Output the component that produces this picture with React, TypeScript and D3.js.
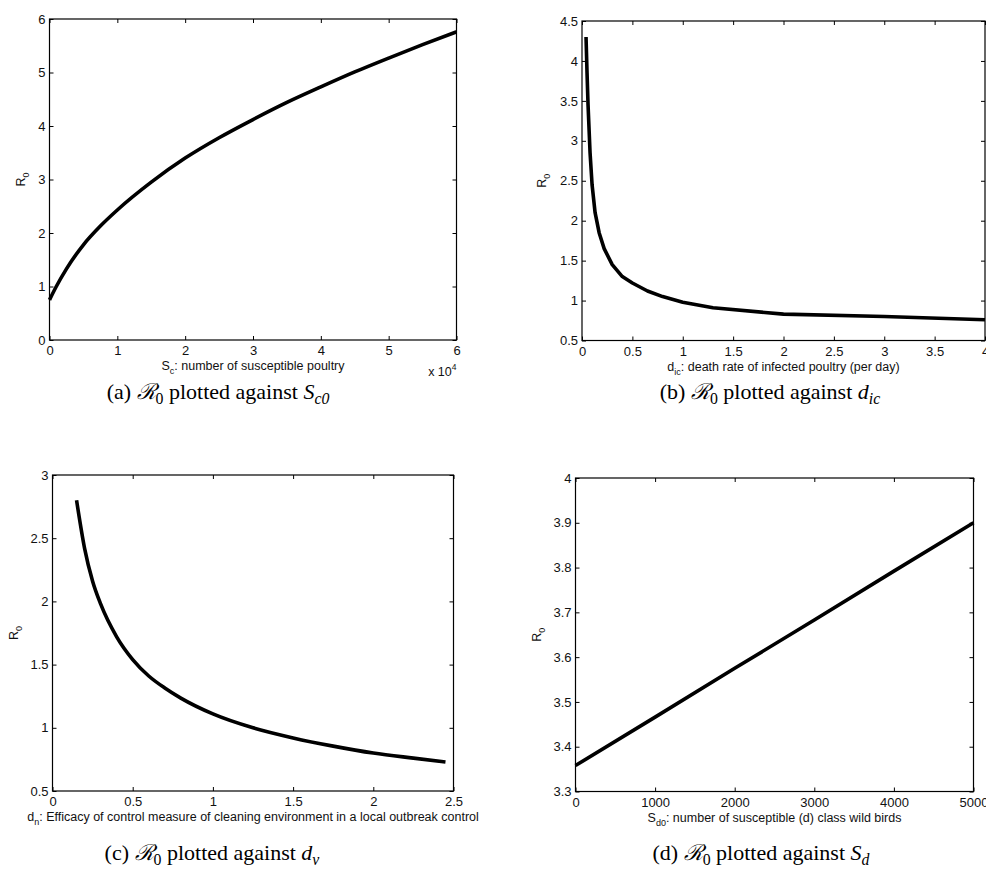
import { useEffect, useRef } from 'react';
import * as d3 from 'd3';

// (a) R0 against susceptible poultry S_c
const poultryX = [0, 1000, 2500, 5000, 7500, 10000, 15000, 20000, 25000, 30000, 35000, 40000, 45000, 50000, 55000, 60000];
const poultryR0 = [0.75, 1.0, 1.33, 1.78, 2.13, 2.43, 2.95, 3.4, 3.78, 4.12, 4.44, 4.73, 5.01, 5.27, 5.52, 5.76];

// (b) R0 against death rate d_ic
const deathX = [0.04, 0.05, 0.06, 0.08, 0.1, 0.13, 0.17, 0.22, 0.3, 0.4, 0.5, 0.65, 0.8, 1.0, 1.3, 2.0, 3.0, 4.0];
const deathR0 = [4.3, 3.85, 3.45, 2.85, 2.45, 2.1, 1.85, 1.65, 1.45, 1.3, 1.22, 1.12, 1.05, 0.98, 0.91, 0.83, 0.8, 0.76];

// (c) R0 against cleaning efficacy d_n
const cleanX = [0.15, 0.2, 0.25, 0.3, 0.4, 0.5, 0.6, 0.7, 0.8, 1.0, 1.25, 1.5, 1.75, 2.0, 2.25, 2.45];
const cleanR0 = [2.8, 2.42, 2.16, 1.98, 1.72, 1.54, 1.41, 1.315, 1.235, 1.11, 1.0, 0.92, 0.855, 0.8, 0.76, 0.73];

// (d) R0 against susceptible wild birds S_d0
const birdsX = [0, 1000, 2000, 3000, 4000, 5000];
const birdsR0 = [3.358, 3.466, 3.575, 3.683, 3.792, 3.90];

const ticksA_x = [0, 10000, 20000, 30000, 40000, 50000, 60000];
const ticksA_y = [0, 1, 2, 3, 4, 5, 6];
const ticksB_x = [0, 0.5, 1, 1.5, 2, 2.5, 3, 3.5, 4];
const ticksB_y = [0.5, 1, 1.5, 2, 2.5, 3, 3.5, 4, 4.5];
const ticksC_x = [0, 0.5, 1, 1.5, 2, 2.5];
const ticksC_y = [0.5, 1, 1.5, 2, 2.5, 3];
const ticksD_x = [0, 1000, 2000, 3000, 4000, 5000];
const ticksD_y = [3.3, 3.4, 3.5, 3.6, 3.7, 3.8, 3.9, 4];

type Part = { t: string; sub?: boolean; it?: boolean; script?: boolean };

const panels = [
  {
    box: [49.5, 19, 456.5, 340], xs: poultryX, ys: poultryR0, xDomain: [0, 60000], yDomain: [0, 6],
    xTicks: ticksA_x, yTicks: ticksA_y, xFmt: (d: number) => String(d / 10000), yFmt: (d: number) => String(d),
    curve: d3.curveMonotoneX, yLabelX: 25,
    xLabel: [{ t: 'S' }, { t: 'c', sub: true }, { t: ': number of susceptible poultry' }] as Part[],
    exponent: true, capX: 218, capY: 399,
    caption: [{ t: '(a) ' }, { t: 'ℛ', script: true }, { t: '0', sub: true }, { t: ' plotted against ' }, { t: 'S', it: true }, { t: 'c0', sub: true, it: true }] as Part[],
  },
  {
    box: [582, 21, 985, 340.5], xs: deathX, ys: deathR0, xDomain: [0, 4], yDomain: [0.5, 4.5],
    xTicks: ticksB_x, yTicks: ticksB_y, xFmt: (d: number) => String(d), yFmt: (d: number) => String(d),
    curve: d3.curveLinear, yLabelX: 546,
    xLabel: [{ t: 'd' }, { t: 'ic', sub: true }, { t: ': death rate of infected poultry (per day)' }] as Part[],
    exponent: false, capX: 770, capY: 399,
    caption: [{ t: '(b) ' }, { t: 'ℛ', script: true }, { t: '0', sub: true }, { t: ' plotted against ' }, { t: 'd', it: true }, { t: 'ic', sub: true, it: true }] as Part[],
  },
  {
    box: [52.5, 475, 453.5, 791], xs: cleanX, ys: cleanR0, xDomain: [0, 2.5], yDomain: [0.5, 3],
    xTicks: ticksC_x, yTicks: ticksC_y, xFmt: (d: number) => String(d), yFmt: (d: number) => String(d),
    curve: d3.curveMonotoneX, yLabelX: 18,
    xLabel: [{ t: 'd' }, { t: 'n', sub: true }, { t: ': Efficacy of control measure of cleaning environment in a local outbreak control' }] as Part[],
    exponent: false, capX: 212, capY: 860,
    caption: [{ t: '(c) ' }, { t: 'ℛ', script: true }, { t: '0', sub: true }, { t: ' plotted against ' }, { t: 'd', it: true }, { t: 'v', sub: true, it: true }] as Part[],
  },
  {
    box: [575.5, 478, 973.5, 791.5], xs: birdsX, ys: birdsR0, xDomain: [0, 5000], yDomain: [3.3, 4],
    xTicks: ticksD_x, yTicks: ticksD_y, xFmt: (d: number) => String(d), yFmt: (d: number) => (d === 4 ? '4' : d.toFixed(1)),
    curve: d3.curveLinear, yLabelX: 541,
    xLabel: [{ t: 'S' }, { t: 'd0', sub: true }, { t: ': number of susceptible (d) class wild birds' }] as Part[],
    exponent: false, capX: 761, capY: 860,
    caption: [{ t: '(d) ' }, { t: 'ℛ', script: true }, { t: '0', sub: true }, { t: ' plotted against ' }, { t: 'S', it: true }, { t: 'd', sub: true, it: true }] as Part[],
  },
];

const SANS = 'Liberation Sans, Arial, Helvetica, sans-serif';
const SERIF = 'Liberation Serif, Times New Roman, DejaVu Serif, serif';

// writes parts as tspans, shifting subscripts down and back up
const writeParts = (text: any, parts: Part[], size: number, subShift: number) => {
  let down = false;
  parts.forEach(p => {
    const ts = text.append('tspan').text(p.t);
    if (p.sub && !down) { ts.attr('dy', subShift); down = true; }
    else if (!p.sub && down) { ts.attr('dy', -subShift); down = false; }
    if (p.sub) ts.style('font-size', `${size * 0.72}px`);
    if (p.it) ts.style('font-style', 'italic');
    if (p.script) ts.style('font-family', 'DejaVu Serif, serif').style('font-style', 'italic');
  });
};

const App = () => {
  const ref = useRef<SVGSVGElement>(null);

  useEffect(() => {
    const svg = d3.select(ref.current);
    svg.selectAll('*').remove();

    panels.forEach(p => {
      const [x0, y0, x1, y1] = p.box;
      const xScale = d3.scaleLinear().domain(p.xDomain).range([x0, x1]);
      const yScale = d3.scaleLinear().domain(p.yDomain).range([y1, y0]);
      const g = svg.append('g');

      const bottom = g.append('g')
        .attr('transform', `translate(0,${y1})`)
        .call(d3.axisBottom(xScale).tickValues(p.xTicks).tickSize(-4).tickPadding(6).tickFormat(p.xFmt as any));
      const left = g.append('g')
        .attr('transform', `translate(${x0},0)`)
        .call(d3.axisLeft(yScale).tickValues(p.yTicks).tickSize(-4).tickPadding(4).tickFormat(p.yFmt as any));
      const top = g.append('g')
        .attr('transform', `translate(0,${y0})`)
        .call(d3.axisTop(xScale).tickValues(p.xTicks).tickSize(-4).tickFormat(() => ''));
      const right = g.append('g')
        .attr('transform', `translate(${x1},0)`)
        .call(d3.axisRight(yScale).tickValues(p.yTicks).tickSize(-4).tickFormat(() => ''));

      [bottom, left, top, right].forEach(a => {
        a.select('.domain').remove();
        a.attr('font-family', SANS).attr('font-size', 13);
        a.selectAll('line').attr('stroke', '#000').attr('stroke-width', 1);
        a.selectAll('text').attr('fill', '#111');
      });

      g.append('rect')
        .attr('x', x0).attr('y', y0)
        .attr('width', x1 - x0).attr('height', y1 - y0)
        .attr('fill', 'none').attr('stroke', '#000').attr('stroke-width', 1.2);

      const line = d3.line<number>()
        .x((_, i) => xScale(p.xs[i]))
        .y(d => yScale(d))
        .curve(p.curve);
      g.append('path')
        .attr('d', line(p.ys))
        .attr('fill', 'none')
        .attr('stroke', '#000')
        .attr('stroke-width', 3.6)
        .attr('stroke-linejoin', 'round');

      const xl = g.append('text')
        .attr('x', (x0 + x1) / 2).attr('y', y1 + 30)
        .attr('text-anchor', 'middle')
        .style('font-family', SANS).style('font-size', '12.5px').attr('fill', '#111');
      writeParts(xl, p.xLabel, 12.5, 4);

      const yl = g.append('text')
        .attr('transform', `translate(${p.yLabelX},${(y0 + y1) / 2}) rotate(-90)`)
        .attr('text-anchor', 'middle')
        .style('font-family', SANS).style('font-size', '12.5px').attr('fill', '#111');
      writeParts(yl, [{ t: 'R' }, { t: '0', sub: true }], 12.5, 4);

      if (p.exponent) {
        const ex = g.append('text')
          .attr('x', x1).attr('y', y1 + 36)
          .attr('text-anchor', 'end')
          .style('font-family', SANS).style('font-size', '12.5px').attr('fill', '#111');
        ex.append('tspan').text('x 10');
        ex.append('tspan').text('4').attr('dy', -6).style('font-size', '8.5px');
      }

      const cap = g.append('text')
        .attr('x', p.capX).attr('y', p.capY)
        .attr('text-anchor', 'middle')
        .style('font-family', SERIF).style('font-size', '22px').attr('fill', '#000');
      writeParts(cap, p.caption, 22, 5);
    });
  }, []);

  return (
    <svg ref={ref} width={986} height={877}
      style={{ position: 'absolute', left: 0, top: 0, background: '#fff', display: 'block' }} />
  );
};

export default App;
